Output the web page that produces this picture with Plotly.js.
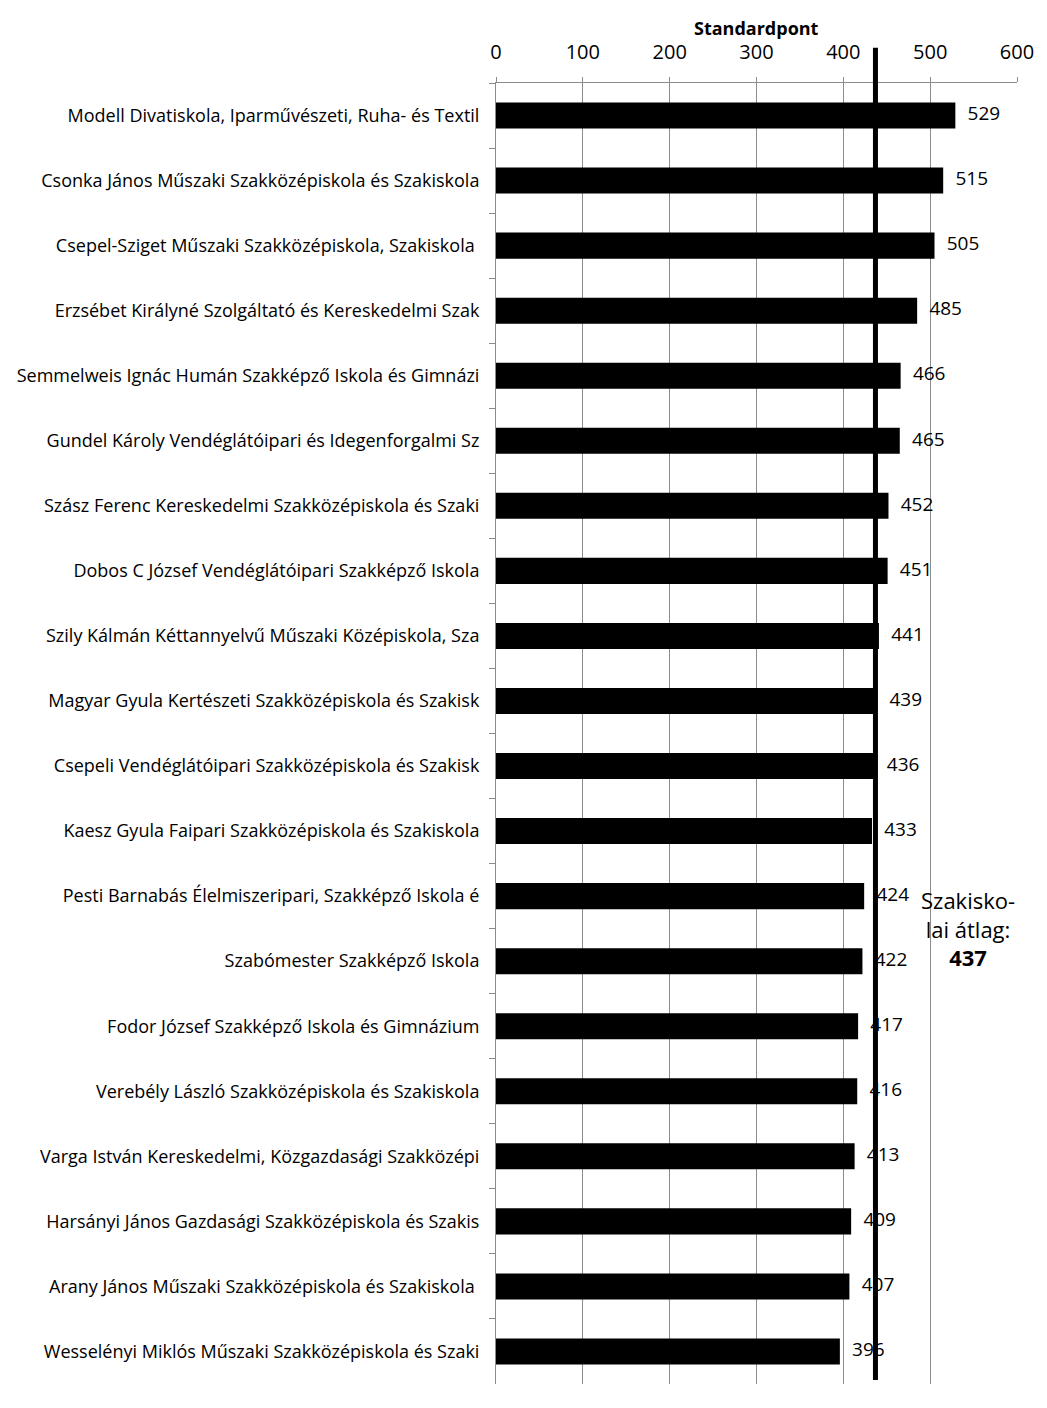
<!DOCTYPE html>
<html>
<head>
<meta charset="utf-8">
<script src="https://cdn.plot.ly/plotly-3.0.1.min.js"></script>
<style>html,body{margin:0;padding:0;background:#fff;}#chart{width:1047px;height:1408px;}</style>
</head>
<body>
<div id="chart"></div>
<script>
const schools = [
  "Modell Divatiskola, Iparművészeti, Ruha- és Textil",
  "Csonka János Műszaki Szakközépiskola és Szakiskola",
  "Csepel-Sziget Műszaki Szakközépiskola, Szakiskola\u00a0",
  "Erzsébet Királyné Szolgáltató és Kereskedelmi Szak",
  "Semmelweis Ignác Humán Szakképző Iskola és Gimnázi",
  "Gundel Károly Vendéglátóipari és Idegenforgalmi Sz",
  "Szász Ferenc Kereskedelmi Szakközépiskola és Szaki",
  "Dobos C József Vendéglátóipari Szakképző Iskola",
  "Szily Kálmán Kéttannyelvű Műszaki Középiskola, Sza",
  "Magyar Gyula Kertészeti Szakközépiskola és Szakisk",
  "Csepeli Vendéglátóipari Szakközépiskola és Szakisk",
  "Kaesz Gyula Faipari Szakközépiskola és Szakiskola",
  "Pesti Barnabás Élelmiszeripari, Szakképző Iskola é",
  "Szabómester Szakképző Iskola",
  "Fodor József Szakképző Iskola és Gimnázium",
  "Verebély László Szakközépiskola és Szakiskola",
  "Varga István Kereskedelmi, Közgazdasági Szakközépi",
  "Harsányi János Gazdasági Szakközépiskola és Szakis",
  "Arany János Műszaki Szakközépiskola és Szakiskola\u00a0",
  "Wesselényi Miklós Műszaki Szakközépiskola és Szaki"
];
const scores = [529, 515, 505, 485, 466, 465, 452, 451, 441, 439, 436, 433, 424, 422, 417, 416, 413, 409, 407, 396];
const average = 437;
const averageLabel = ["Szakisko-", "lai átlag:", "<b>437</b>"];
const xTicks = [0, 100, 200, 300, 400, 500, 600];
const xTitle = "Standardpont";

const FONT = "'Open Sans', Lato, sans-serif";

const bars = {
  type: 'bar', orientation: 'h',
  x: scores, y: schools,
  marker: {color: '#000000', line: {width: 0}},
  width: 0.4,
  hoverinfo: 'skip'
};
const labels = {
  type: 'scatter', mode: 'markers+text',
  x: scores, y: schools,
  text: scores.map(String),
  textposition: 'middle right',
  textfont: {family: FONT, size: 19, color: '#000'},
  marker: {size: 18, color: 'rgba(0,0,0,0)'},
  cliponaxis: false,
  hoverinfo: 'skip'
};

const layout = {
  width: 1047, height: 1408,
  margin: {l: 496, r: 30, t: 83, b: 24, pad: 0},
  paper_bgcolor: '#fff', plot_bgcolor: '#fff',
  showlegend: false,
  font: {family: FONT, color: '#000'},
  xaxis: {
    side: 'top', range: [0, 600],
    tickvals: xTicks, ticktext: xTicks.map(String),
    tickfont: {family: FONT, size: 20, color: '#000'},
    showgrid: true, gridcolor: '#8c8c8c', gridwidth: 1,
    showline: true, linecolor: '#8c8c8c', linewidth: 1,
    ticks: 'outside', ticklen: 5, tickcolor: '#8c8c8c',
    ticklabelstandoff: 10,
    zeroline: false
  },
  yaxis: {
    type: 'category', autorange: false, range: [schools.length - 0.5, -0.5],
    tickfont: {family: FONT, size: 18, color: '#000'},
    showline: true, linecolor: '#8c8c8c', linewidth: 1,
    ticks: 'outside', ticklen: 6, tickcolor: '#8c8c8c',
    tickson: 'boundaries',
    showgrid: false, zeroline: false,
    ticklabelstandoff: 12
  },
  bargap: 0.6,
  shapes: [{
    type: 'line', layer: 'above',
    xref: 'x', yref: 'paper',
    x0: average, x1: average, y0: 0.003, y1: 1.027,
    line: {color: '#000', width: 5}
  }],
  annotations: [{
    xref: 'paper', yref: 'paper', x: 0.5, y: 1.0423,
    text: '<b>' + xTitle + '</b>',
    showarrow: false, xanchor: 'center', yanchor: 'middle',
    font: {family: FONT, size: 18, color: '#000'}
  }, {
    xref: 'x', yref: 'paper', x: 544, y: 0.35,
    text: averageLabel.join('<br>'),
    showarrow: false, align: 'center',
    font: {family: FONT, size: 22, color: '#000'}
  }]
};

Plotly.newPlot('chart', [bars, labels], layout, {displayModeBar: false, staticPlot: true});
</script>
</body>
</html>
